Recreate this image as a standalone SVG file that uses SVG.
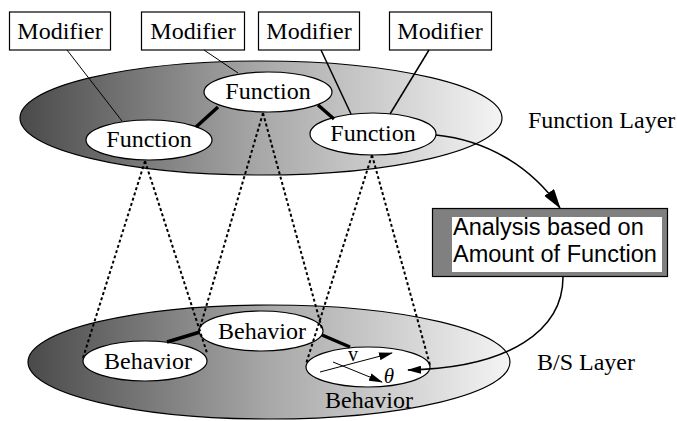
<svg xmlns="http://www.w3.org/2000/svg" width="677" height="421" viewBox="0 0 677 421">
<defs>
<linearGradient id="layerGrad" x1="0" y1="0" x2="1" y2="0">
<stop offset="0" stop-color="#4a4a4a"/>
<stop offset="0.5" stop-color="#a8a8a8"/>
<stop offset="1" stop-color="#f4f4f4"/>
</linearGradient>
<marker id="bigArrow" markerUnits="userSpaceOnUse" markerWidth="20" markerHeight="12" refX="19" refY="6" orient="auto">
<path d="M0,0 L20,6 L0,12 Z" fill="#000"/>
</marker>
<marker id="smallArrow" markerUnits="userSpaceOnUse" markerWidth="14" markerHeight="8" refX="13" refY="4" orient="auto">
<path d="M0,0 L14,4 L0,8 Z" fill="#000"/>
</marker>
</defs>
<style>
.layer{fill:url(#layerGrad);stroke:#000;stroke-width:1.2}
.node{fill:#fff;stroke:#000;stroke-width:1.2}
.box{fill:#fff;stroke:#000;stroke-width:1.2}
.t{font-family:"Liberation Serif","Times New Roman",serif;font-size:24px;fill:#000}
.mid{text-anchor:middle}
.s{font-family:"Liberation Sans",Arial,sans-serif;font-size:23.5px;fill:#000}
.thin{stroke:#000;stroke-width:1;fill:none}
.med{stroke:#000;stroke-width:1.5;fill:none}
.thick{stroke:#000;stroke-width:3.5;fill:none}
.dot{stroke:#000;stroke-width:2;stroke-dasharray:3 2.5;fill:none}
.curve{stroke:#000;stroke-width:1.5;fill:none}
</style>

<g id="function-layer">
<ellipse class="layer" cx="261" cy="118" rx="241" ry="57"/>
</g>
<g id="bs-layer">
<ellipse class="layer" cx="269" cy="362" rx="241" ry="57"/>
</g>

<g id="modifier1"><rect class="box" x="9.5" y="12" width="101" height="38"/><text class="t mid" x="60" y="39">Modifier</text></g>
<g id="modifier2"><rect class="box" x="141.5" y="12" width="103" height="38"/><text class="t mid" x="193" y="39">Modifier</text></g>
<g id="modifier3"><rect class="box" x="258.5" y="12" width="101" height="38"/><text class="t mid" x="309" y="39">Modifier</text></g>
<g id="modifier4"><rect class="box" x="389.5" y="12" width="102" height="38"/><text class="t mid" x="440" y="39">Modifier</text></g>

<g id="function1"><ellipse class="node" cx="149" cy="140" rx="63" ry="20"/><text class="t mid" x="149" y="147">Function</text></g>
<g id="function2"><ellipse class="node" cx="268" cy="92" rx="64" ry="20"/><text class="t mid" x="268" y="99">Function</text></g>
<g id="function3"><ellipse class="node" cx="373" cy="134" rx="63" ry="21"/><text class="t mid" x="373" y="141">Function</text></g>

<g id="behavior1"><ellipse class="node" cx="145" cy="361" rx="62" ry="20"/><text class="t mid" x="148" y="369">Behavior</text></g>
<g id="behavior2"><ellipse class="node" cx="261" cy="331" rx="62" ry="20"/><text class="t mid" x="262" y="339">Behavior</text></g>
<g id="behavior3">
<ellipse class="node" cx="368" cy="367" rx="62" ry="20"/>
<line class="thin" x1="320" y1="372" x2="392" y2="353" marker-end="url(#smallArrow)"/>
<line class="thin" x1="333" y1="362" x2="382" y2="382" marker-end="url(#smallArrow)"/>
<text class="t mid" x="353" y="361" style="font-size:20px">v</text>
<text class="t mid" x="389" y="383" style="font-size:21px;font-style:italic">θ</text>
<text class="t mid" x="369" y="408">Behavior</text>
</g>

<g id="analysis">
<rect x="432.5" y="208.5" width="235" height="68" fill="#808080" stroke="#000" stroke-width="1.2"/>
<rect x="452" y="217" width="210" height="55" fill="#fff"/>
<text class="s" x="453" y="235">Analysis based on</text>
<text class="s" x="453" y="262">Amount of Function</text>
</g>

<g id="connectors">
<line class="thin" x1="67" y1="50" x2="122" y2="121"/>
<line class="thin" x1="204" y1="50" x2="238" y2="73"/>
<line class="med" x1="321" y1="50" x2="351" y2="114"/>
<line class="med" x1="429" y1="50" x2="390" y2="114"/>
<line class="thick" x1="196" y1="127" x2="218" y2="107"/>
<line class="thick" x1="318" y1="105" x2="334" y2="119"/>
<line class="thick" x1="167" y1="342" x2="200" y2="332"/>
<line class="thick" x1="322" y1="335" x2="350" y2="347"/>
<line class="dot" x1="145" y1="161" x2="83" y2="358"/>
<line class="dot" x1="145" y1="161" x2="207" y2="353"/>
<line class="dot" x1="263" y1="113" x2="199" y2="331"/>
<line class="dot" x1="263" y1="113" x2="322" y2="329"/>
<line class="dot" x1="372" y1="155" x2="306" y2="364"/>
<line class="dot" x1="372" y1="155" x2="430" y2="365"/>
<path class="curve" d="M436,135 C485,140 530,165 560,208" marker-end="url(#bigArrow)"/>
<path class="curve" d="M563,277 C563,330 510,368 408,370" marker-end="url(#smallArrow)"/>
</g>

<g id="labels">
<text class="t" x="528" y="128">Function Layer</text>
<text class="t" x="537" y="370">B/S Layer</text>
</g>
</svg>
